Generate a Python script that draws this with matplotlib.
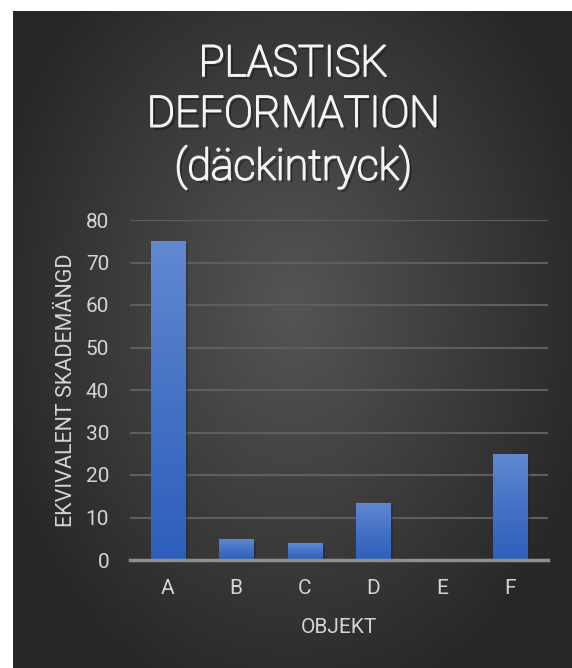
import numpy as np
import matplotlib
matplotlib.use("Agg")
import matplotlib.pyplot as plt
import matplotlib.patheffects as pe
from matplotlib.colors import LinearSegmentedColormap

# data
categories = ["A", "B", "C", "D", "E", "F"]
values = [75, 5, 4, 13.5, 0, 25]
y_ticks = [0, 10, 20, 30, 40, 50, 60, 70, 80]

title = "PLASTISK\nDEFORMATION\n(däckintryck)"
x_label = "OBJEKT"
y_label = "EKVIVALENT SKADEMÄNGD"

plt.rcParams['font.family'] = ['Roboto', 'DejaVu Sans']
text_col = "#d4d4d4"
title_col = "#f4f4f4"

W, H = 572, 668
fig = plt.figure(figsize=(W / 100, H / 100), dpi=100, facecolor="white")

# dark panel with a radial gradient (lighter near the middle)
bg = fig.add_axes([13 / W, 0, (W - 13) / W, (H - 11) / H])
bg.set_axis_off()
yy, xx = np.mgrid[0:1:300j, 0:1:300j]
r = np.sqrt(((xx - 0.5) / 0.75) ** 2 + ((yy - 0.55) / 0.85) ** 2)
bg_cmap = LinearSegmentedColormap.from_list("bg", ["#555555", "#3e3e3e", "#272727"])
bg.imshow(r, cmap=bg_cmap, aspect="auto", extent=[0, 1, 0, 1], origin="lower", vmin=0, vmax=0.75)
bg.set_xlim(0, 1)
bg.set_ylim(0, 1)

# plot area: x from 130 to 548 px, y 0 at 560 px, 80 at 220 px
ax = fig.add_axes([130 / W, (H - 560) / H, (548 - 130) / W, (560 - 220) / H])
ax.patch.set_alpha(0)
x = np.arange(len(categories))

ax.set_yticks(y_ticks)
ax.yaxis.grid(True, color="#5e5e5e", linewidth=1.5)
ax.set_axisbelow(True)

bar_cmap = LinearSegmentedColormap.from_list("bar", ["#2d5fbd", "#4472c4", "#6288d2"])
grad = np.linspace(0, 1, 100).reshape(-1, 1)
bars = ax.bar(x, values, width=0.5, color="#4472c4", zorder=3,
              path_effects=[pe.SimplePatchShadow(offset=(2, -2), alpha=0.35), pe.Normal()])
for b in bars:
    if b.get_height() <= 0:
        continue
    im = ax.imshow(grad, cmap=bar_cmap, aspect="auto", origin="lower", zorder=4,
                   extent=[b.get_x(), b.get_x() + b.get_width(), 0, b.get_height()])
    im.set_clip_path(b)
ax.set_xlim(-0.55, len(categories) - 0.45)
ax.set_ylim(0, 80)

for s in ["top", "right", "left"]:
    ax.spines[s].set_visible(False)
ax.spines["bottom"].set_color("#8f8f8f")
ax.spines["bottom"].set_linewidth(2.5)
ax.spines["bottom"].set_zorder(5)

ax.set_xticks(x)
ax.set_xticklabels(categories)
ax.tick_params(axis="both", length=0, labelsize=15, colors=text_col)
ax.tick_params(axis="x", pad=14)
ax.tick_params(axis="y", pad=15)

ax.set_xlabel(x_label, fontsize=15, color=text_col, labelpad=14)
ax.set_ylabel(y_label, fontsize=15.5, color=text_col, labelpad=6)

# thin face thickened a little with a stroke of the same colour
fig.text(293 / W, 1 - 44 / H, title, ha="center", va="top", fontsize=31,
         color=title_col, linespacing=1.3, fontweight="light",
         path_effects=[pe.SimplePatchShadow(offset=(2, -2), shadow_rgbFace="black", alpha=0.45),
                       pe.Stroke(linewidth=1.3, foreground=title_col),
                       pe.Normal()])

fig.savefig("out.png", dpi=100, facecolor="white")
